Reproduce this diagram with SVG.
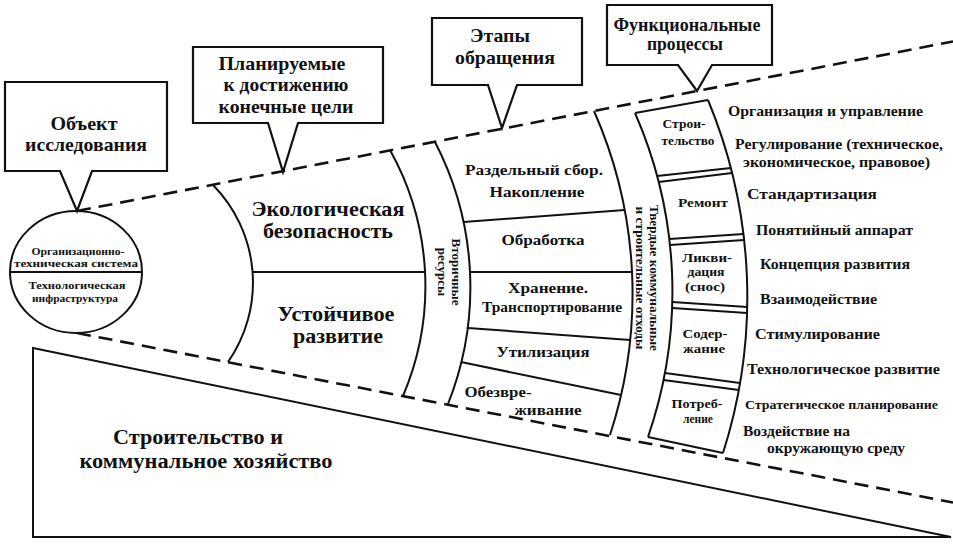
<svg xmlns="http://www.w3.org/2000/svg" width="953" height="548" viewBox="0 0 953 548">
<style>
.ln{fill:none;stroke:#111;stroke-width:2}
.bx{fill:#fff;stroke:#111;stroke-width:2.2;stroke-linejoin:miter}
.dash{fill:none;stroke:#111;stroke-width:2.6;stroke-dasharray:14 8}
text{font-family:'Liberation Serif','Times New Roman',serif;font-weight:700;fill:#111}
.c{text-anchor:middle}
.s10{font-size:11px}
.s13{font-size:13px}
.s15{font-size:15px}
.s19{font-size:19px}
.s21{font-size:20px}
</style>
<rect x="0" y="0" width="953" height="548" fill="#fff"/>

<g id="sector-construction">
  <path class="ln" d="M33,348 L951,537 L33,537 Z"/>
  <text class="s21 c" x="198" y="444" textLength="170" lengthAdjust="spacingAndGlyphs">Строительство и</text>
  <text class="s21 c" x="206" y="468" textLength="253" lengthAdjust="spacingAndGlyphs">коммунальное хозяйство</text>
</g>

<g id="connectors">
  <path class="dash" d="M77,211 L953,41.5"/>
  <path class="dash" d="M77,333 L953,502.5"/>
</g>

<g id="object">
  <ellipse class="ln" cx="76" cy="272" rx="66" ry="61" fill="#fff"/>
  <path class="ln" d="M10,272 H142"/>
  <text class="s10 c" x="78" y="255" textLength="93" lengthAdjust="spacingAndGlyphs">Организационно-</text>
  <text class="s10 c" x="76" y="267" textLength="124" lengthAdjust="spacingAndGlyphs">техническая система</text>
  <text class="s10 c" x="77" y="289" textLength="97" lengthAdjust="spacingAndGlyphs">Технологическая</text>
  <text class="s10 c" x="75" y="302" textLength="86" lengthAdjust="spacingAndGlyphs">инфраструктура</text>
</g>

<g id="goals">
  <path class="ln" d="M213,185 A139,139 0 0 1 228,362"/>
  <path class="ln" d="M390,150 A280,280 0 0 1 403,396"/>
  <path class="ln" d="M252,272 H425"/>
  <text class="s21 c" x="328" y="216" textLength="153" lengthAdjust="spacingAndGlyphs">Экологическая</text>
  <text class="s21 c" x="328" y="238" textLength="130" lengthAdjust="spacingAndGlyphs">безопасность</text>
  <text class="s21 c" x="336" y="321" textLength="117" lengthAdjust="spacingAndGlyphs">Устойчивое</text>
  <text class="s21 c" x="338" y="343" textLength="90" lengthAdjust="spacingAndGlyphs">развитие</text>
</g>

<g id="secondary-resources">
  <path class="ln" d="M435,142 A316,316 0 0 1 448,404"/>
  <text class="s13 c" transform="translate(452,272) rotate(90)">Вторичные</text>
  <text class="s13 c" transform="translate(438,272) rotate(90)">ресурсы</text>
</g>

<g id="stages">
  <path class="ln" d="M594,111 A453,453 0 0 1 610,435"/>
  <path class="ln" d="M463.6,222 L624.7,210"/>
  <path class="ln" d="M470,272 H632"/>
  <path class="ln" d="M468,328 L630,340"/>
  <path class="ln" d="M461,362 L621,395"/>
  <text class="s15 c" x="534" y="175" textLength="138" lengthAdjust="spacingAndGlyphs">Раздельный сбор.</text>
  <text class="s15 c" x="537" y="197" textLength="95" lengthAdjust="spacingAndGlyphs">Накопление</text>
  <text class="s15 c" x="543" y="245" textLength="83" lengthAdjust="spacingAndGlyphs">Обработка</text>
  <text class="s15 c" x="548" y="293" textLength="80" lengthAdjust="spacingAndGlyphs">Хранение.</text>
  <text class="s15 c" x="552" y="312" textLength="140" lengthAdjust="spacingAndGlyphs">Транспортирование</text>
  <text class="s15 c" x="543" y="357" textLength="93" lengthAdjust="spacingAndGlyphs">Утилизация</text>
  <text class="s15 c" x="498" y="397" textLength="67" lengthAdjust="spacingAndGlyphs">Обезвре-</text>
  <text class="s15 c" x="548" y="415" textLength="67" lengthAdjust="spacingAndGlyphs">живание</text>
</g>

<g id="waste">
  <text class="s13 c" transform="translate(650,278) rotate(90)" textLength="146" lengthAdjust="spacingAndGlyphs">Твердые коммунальные</text>
  <text class="s13 c" transform="translate(636,278) rotate(90)" textLength="143" lengthAdjust="spacingAndGlyphs">и строительные отходы</text>
</g>

<g id="processes">
  <path class="ln" d="M635,113 A445,445 0 0 1 648,437"/>
  <path class="ln" d="M708,100 A513,513 0 0 1 723,453"/>
  <path class="ln" d="M635,113 L708,100"/>
  <path class="ln" d="M648,437 L723,453"/>
  <path class="ln" d="M657.1,176 L730.8,168 M658.7,182 L732.1,173"/>
  <path class="ln" d="M669.3,239 L743.4,234 M670,245 L744.1,240"/>
  <path class="ln" d="M672.3,302 L747.2,307 M672.1,308 L747,313"/>
  <path class="ln" d="M664.9,373 L740,383 M663.5,380 L738.8,390"/>
  <g id="p-construction">
    <text class="s13 c" x="684" y="128" textLength="43" lengthAdjust="spacingAndGlyphs">Строи-</text>
    <text class="s13 c" x="688" y="145" textLength="53" lengthAdjust="spacingAndGlyphs">тельство</text>
  </g>
  <g id="p-repair">
    <text class="s13 c" x="703" y="207" textLength="50" lengthAdjust="spacingAndGlyphs">Ремонт</text>
  </g>
  <g id="p-demolition">
    <text class="s13 c" x="707" y="262" textLength="50" lengthAdjust="spacingAndGlyphs">Ликви-</text>
    <text class="s13 c" x="706" y="276" textLength="37" lengthAdjust="spacingAndGlyphs">дация</text>
    <text class="s13 c" x="705" y="291" textLength="40" lengthAdjust="spacingAndGlyphs">(снос)</text>
  </g>
  <g id="p-maintenance">
    <text class="s13 c" x="705" y="338" textLength="45" lengthAdjust="spacingAndGlyphs">Содер-</text>
    <text class="s13 c" x="704" y="353" textLength="42" lengthAdjust="spacingAndGlyphs">жание</text>
  </g>
  <g id="p-consumption">
    <text class="s13 c" x="697" y="408" textLength="51" lengthAdjust="spacingAndGlyphs">Потреб-</text>
    <text class="s13 c" x="698" y="423" textLength="30" lengthAdjust="spacingAndGlyphs">ление</text>
  </g>
</g>

<g id="functions">
  <text class="s15" x="728" y="116" textLength="195" lengthAdjust="spacingAndGlyphs">Организация и управление</text>
  <text class="s15" x="735" y="149" textLength="208" lengthAdjust="spacingAndGlyphs">Регулирование (техническое,</text>
  <text class="s15" x="743" y="167" textLength="187" lengthAdjust="spacingAndGlyphs">экономическое, правовое)</text>
  <text class="s15" x="747" y="199" textLength="130" lengthAdjust="spacingAndGlyphs">Стандартизация</text>
  <text class="s15" x="756" y="235" textLength="157" lengthAdjust="spacingAndGlyphs">Понятийный аппарат</text>
  <text class="s15" x="760" y="269" textLength="150" lengthAdjust="spacingAndGlyphs">Концепция развития</text>
  <text class="s15" x="760" y="304" textLength="117" lengthAdjust="spacingAndGlyphs">Взаимодействие</text>
  <text class="s15" x="755" y="339" textLength="125" lengthAdjust="spacingAndGlyphs">Стимулирование</text>
  <text class="s15" x="747" y="374" textLength="193" lengthAdjust="spacingAndGlyphs">Технологическое развитие</text>
  <text class="s13" x="745" y="409" textLength="193" lengthAdjust="spacingAndGlyphs">Стратегическое планирование</text>
  <text class="s15" x="743" y="436" textLength="107" lengthAdjust="spacingAndGlyphs">Воздействие на</text>
  <text class="s15" x="767" y="453" textLength="138" lengthAdjust="spacingAndGlyphs">окружающую среду</text>
</g>

<g id="callout-object">
  <path class="bx" d="M5,82 H167 V171 H92 L77,211 L60,171 H5 Z"/>
  <text class="s19 c" x="84" y="130" textLength="67" lengthAdjust="spacingAndGlyphs">Объект</text>
  <text class="s19 c" x="86" y="151" textLength="122" lengthAdjust="spacingAndGlyphs">исследования</text>
</g>

<g id="callout-goals">
  <path class="bx" d="M193,47 H383 V123 H298 L283,172 L268,123 H193 Z"/>
  <text class="s19 c" x="282" y="70" textLength="127" lengthAdjust="spacingAndGlyphs">Планируемые</text>
  <text class="s19 c" x="286" y="91" textLength="125" lengthAdjust="spacingAndGlyphs">к достижению</text>
  <text class="s19 c" x="286" y="113" textLength="135" lengthAdjust="spacingAndGlyphs">конечные цели</text>
</g>

<g id="callout-stages">
  <path class="bx" d="M432,18 H582 V85 H517 L502,128 L488,85 H432 Z"/>
  <text class="s19 c" x="500" y="42" textLength="60" lengthAdjust="spacingAndGlyphs">Этапы</text>
  <text class="s19 c" x="505" y="64" textLength="100" lengthAdjust="spacingAndGlyphs">обращения</text>
</g>

<g id="callout-processes">
  <path class="bx" d="M607,5 H772 V65 H712 L697,91 L678,65 H607 Z"/>
  <text class="s19 c" x="687" y="31" textLength="147" lengthAdjust="spacingAndGlyphs">Функциональные</text>
  <text class="s19 c" x="685" y="50" textLength="76" lengthAdjust="spacingAndGlyphs">процессы</text>
</g>
</svg>
